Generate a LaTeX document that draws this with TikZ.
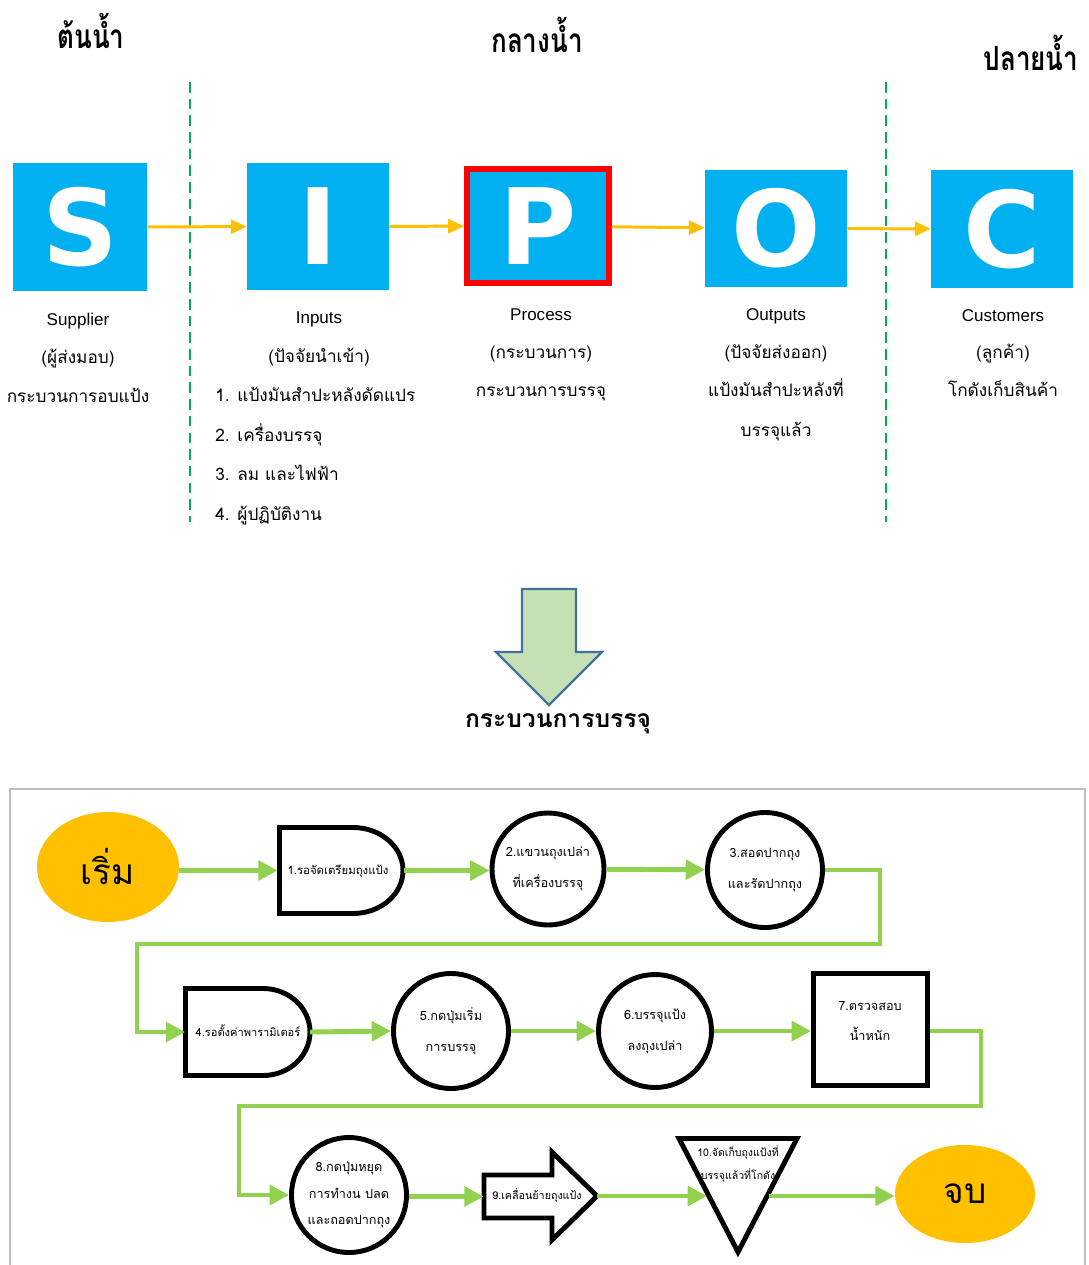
\documentclass[tikz,border=0pt]{standalone}
\usepackage{fontspec}
\setmainfont{Liberation Sans}
\newfontfamily\thaifont[Script=Thai]{Loma}
\newfontfamily\thaihead[Script=Thai,FakeStretch=0.78]{Loma}
\newfontfamily\letterfont{DejaVu Sans}
\usetikzlibrary{arrows.meta,shapes.geometric}
\definecolor{sipocblue}{HTML}{00B0F0}
\definecolor{sipocorange}{HTML}{FFC000}
\definecolor{flowgreen}{HTML}{92D050}
\definecolor{startyellow}{HTML}{FFC000}
\definecolor{divgreen}{HTML}{00B050}
\definecolor{bigarrowfill}{HTML}{C5E0B4}
\definecolor{bigarrowline}{HTML}{41719C}
\definecolor{framegray}{HTML}{BFBFBF}
\newdimen\upx \upx=0.02cm
\tikzset{
  sipocbox/.style={fill=sipocblue, inner sep=0pt, text=white,
    font=\letterfont\bfseries\fontsize{60}{60}\selectfont},
  hdr/.style={anchor=base, inner sep=0pt, font=\thaihead\bfseries\fontsize{19}{22}\selectfont},
  latlbl/.style={anchor=base, inner sep=0pt, font=\fontsize{9.7}{12}\selectfont},
  thlbl/.style={anchor=base, inner sep=0pt, font=\thaifont\fontsize{9.8}{12}\selectfont},
  thlist/.style={anchor=base west, inner sep=0pt, font=\thaifont\fontsize{9.8}{12}\selectfont},
  oarrow/.style={draw=sipocorange, line width=1.7pt, -{Triangle[length=9pt,width=8pt]}},
  divline/.style={draw=divgreen, line width=1.1pt, dash pattern=on 6pt off 3.5pt},
  farrow/.style={draw=flowgreen, line width=2.8pt, -{Triangle[length=11pt,width=11pt]}},
  fline/.style={draw=flowgreen, line width=2.8pt},
  shapeline/.style={draw=black, line width=2.8pt, fill=white, line join=miter},
  circstep/.style={circle, draw=black, line width=2.8pt, fill=white, minimum size=112\upx,
    inner sep=0pt, align=center, font=\thaifont\fontsize{7.2}{17.5}\selectfont},
  steptext/.style={inner sep=0pt, align=center, font=\thaifont\fontsize{7.2}{17.5}\selectfont},
  terminal/.style={ellipse, fill=startyellow, inner sep=0pt, font=\thaifont\fontsize{20}{24}\selectfont},
}
\begin{document}
\begin{tikzpicture}[x=0.02cm, y=-0.02cm]
\useasboundingbox (0,0) rectangle (1089,1265);
\fill[white] (0,0) rectangle (1089,1265);

% ---------- headings ----------
\node[hdr] (hup) at (91,48) {ต้นน้ำ};
\node[hdr] (hmid) at (537,52) {กลางน้ำ};
\node[hdr] (hdown) at (1031,70) {ปลายน้ำ};

% dividers
\draw[divline] (190,82) -- (190,522);
\draw[divline] (886,82) -- (886,522);

% ---------- SIPOC boxes ----------
\node[sipocbox, minimum width=134\upx, minimum height=128\upx] (S) at (80,227) {S};
\node[sipocbox, minimum width=142\upx, minimum height=127\upx] (I) at (318,226.5) {I};
\node[sipocbox, draw=red, line width=3.4pt, minimum width=142\upx, minimum height=114\upx] (P) at (538,226) {P};
\node[sipocbox, minimum width=142\upx, minimum height=117\upx] (O) at (776,228.5) {O};
\node[sipocbox, minimum width=142\upx, minimum height=118\upx] (C) at (1002,229) {C};

\draw[oarrow] (S) -- (I);
\draw[oarrow] (I) -- (P);
\draw[oarrow] (P) -- (O);
\draw[oarrow] (O) -- (C);

% ---------- labels ----------
\node[latlbl] (s1) at (78,325) {Supplier};
\node[thlbl] (s2) at (78,363) {(ผู้ส่งมอบ)};
\node[thlbl] (s3) at (78,402) {กระบวนการอบแป้ง};

\node[latlbl] (i1) at (319,323) {Inputs};
\node[thlbl] (i2) at (319,362) {(ปัจจัยนำเข้า)};
\node[thlist] (i3) at (215,401) {1. แป้งมันสำปะหลังดัดแปร};
\node[thlist] (i4) at (215,441) {2. เครื่องบรรจุ};
\node[thlist] (i5) at (215,480) {3. ลม และไฟฟ้า};
\node[thlist] (i6) at (215,520) {4. ผู้ปฏิบัติงาน};

\node[latlbl] (p1) at (541,320) {Process};
\node[thlbl] (p2) at (541,358) {(กระบวนการ)};
\node[thlbl] (p3) at (541,396) {กระบวนการบรรจุ};

\node[latlbl] (o1) at (776,320) {Outputs};
\node[thlbl] (o2) at (776,358) {(ปัจจัยส่งออก)};
\node[thlbl] (o3) at (776,396) {แป้งมันสำปะหลังที่};
\node[thlbl] (o4) at (776,436) {บรรจุแล้ว};

\node[latlbl] (c1) at (1003,321) {Customers};
\node[thlbl] (c2) at (1003,358) {(ลูกค้า)};
\node[thlbl] (c3) at (1003,396) {โกดังเก็บสินค้า};

% ---------- big arrow ----------
\draw[fill=bigarrowfill, draw=bigarrowline, line width=1.3pt, line join=miter]
  (522,589) -- (576,589) -- (576,652) -- (602,652) -- (549,705) -- (496,652) -- (522,652) -- cycle;
\node[anchor=base, inner sep=0pt, font=\thaifont\bfseries\fontsize{14}{16}\selectfont] (ptitle) at (558,727) {กระบวนการบรรจุ};

% ---------- frame ----------
\draw[framegray, line width=1.2pt] (10,1266) -- (10,789) -- (1085,789) -- (1085,1266);

% ---------- flow row 1 ----------
\node[terminal, minimum width=142\upx, minimum height=110\upx] (start) at (108,867) {เริ่ม};

\draw[shapeline] (279.5,827.5) -- (353,827.5) arc[start angle=90, end angle=-90, x radius=50\upx, y radius=86\upx/2] -- (279.5,913.5) -- cycle;
\node[steptext, minimum width=126\upx, minimum height=86\upx] (st1) at (341,870.5) {};
\node[steptext, font=\thaifont\fontsize{6.5}{14}\selectfont] (st1t) at (338,871) {1.รอจัดเตรียมถุงแป้ง};

\node[circstep] (st2) at (548,869) {2.แขวนถุงเปล่า\\ที่เครื่องบรรจุ};
\node[circstep, minimum size=115\upx] (st3) at (765,870) {3.สอดปากถุง\\และรัดปากถุง};

\draw[farrow] (start.east |- st1.west) -- (st1.west);
\draw[farrow] (st1.east) -- (st1.east -| st2.west);
\draw[farrow] (st2) -- (st3);

% ---------- flow row 2 ----------
\draw[shapeline] (185.5,988.5) -- (263,988.5) arc[start angle=90, end angle=-90, x radius=47\upx, y radius=87\upx/2] -- (185.5,1075.5) -- cycle;
\node[steptext, minimum width=124\upx, minimum height=87\upx] (st4) at (247.5,1032) {};
\node[steptext, font=\thaifont\fontsize{6.3}{14}\selectfont] (st4t) at (248,1031) {4.รอตั้งค่าพารามิเตอร์};

\node[circstep, minimum size=115\upx] (st5) at (451,1031) {5.กดปุ่มเริ่ม\\การบรรจุ};
\node[circstep, minimum size=113\upx] (st6) at (655,1031) {6.บรรจุแป้ง\\ลงถุงเปล่า};
\node[draw=black, line width=2.8pt, fill=white, minimum width=114\upx, minimum height=112\upx,
  inner sep=0pt] (st7) at (870.5,1029.5) {};
\node[steptext] (st7t) at (870,1021) {7.ตรวจสอบ\\น้ำหนัก};

\coordinate (r1a) at (880,870);
\coordinate (r1b) at (880,944);
\coordinate (r1c) at (137,944);
\draw[fline] (st3.east |- r1a) -- (r1a) -- (r1b) -- (r1c) -- (r1c |- st4.west);
\draw[farrow] ([xshift=-1.4pt]r1c |- st4.west) -- (st4.west);

\draw[farrow] (st4.east) -- (st5.west);
\draw[farrow] (st5) -- (st6);
\draw[farrow] (st6.east) -- (st6.east -| st7.west);

% ---------- flow row 3 ----------
\coordinate (r2a) at (981,1031);
\coordinate (r2b) at (981,1106);
\coordinate (r2c) at (239,1106);

\node[circstep, minimum size=115\upx] (st8) at (349,1195) {8.กดปุ่มหยุด\\[-2.5pt]การทำงน ปลด\\[-2.5pt]และถอดปากถุง};

\draw[fline] (st7.east |- r2a) -- (r2a) -- (r2b) -- (r2c) -- (r2c |- st8.west);
\draw[farrow] ([xshift=-1.4pt]r2c |- st8.west) -- (st8.west);

\draw[shapeline] (484,1175) -- (552,1175) -- (552,1152) -- (597,1196) -- (552,1240) -- (552,1218) -- (484,1218) -- cycle;
\node[steptext, minimum width=113\upx, minimum height=43\upx] (st9) at (540.5,1196.5) {};
\node[steptext, font=\thaifont\fontsize{6.1}{14}\selectfont] (st9t) at (537,1195) {9.เคลื่อนย้ายถุงแป้ง};

\draw[shapeline, line join=miter] (679,1138.5) -- (797,1138.5) -- (738,1252) -- cycle;
\coordinate (t10l) at (707,1196);
\coordinate (t10r) at (769,1196);
\node[steptext, font=\thaifont\fontsize{6}{13.5}\selectfont] (st10) at (738,1164) {10.จัดเก็บถุงแป้งที่\\บรรจุแล้วที่โกดัง};

\node[terminal, minimum width=140\upx, minimum height=98\upx] (finish) at (965,1194) {จบ};

\draw[farrow] (st8.east |- st9.west) -- (st9.west);
\draw[farrow] (597,1196) -- (t10l);
\draw[farrow] (t10r) -- (t10r -| finish.west);
\end{tikzpicture}
\end{document}
